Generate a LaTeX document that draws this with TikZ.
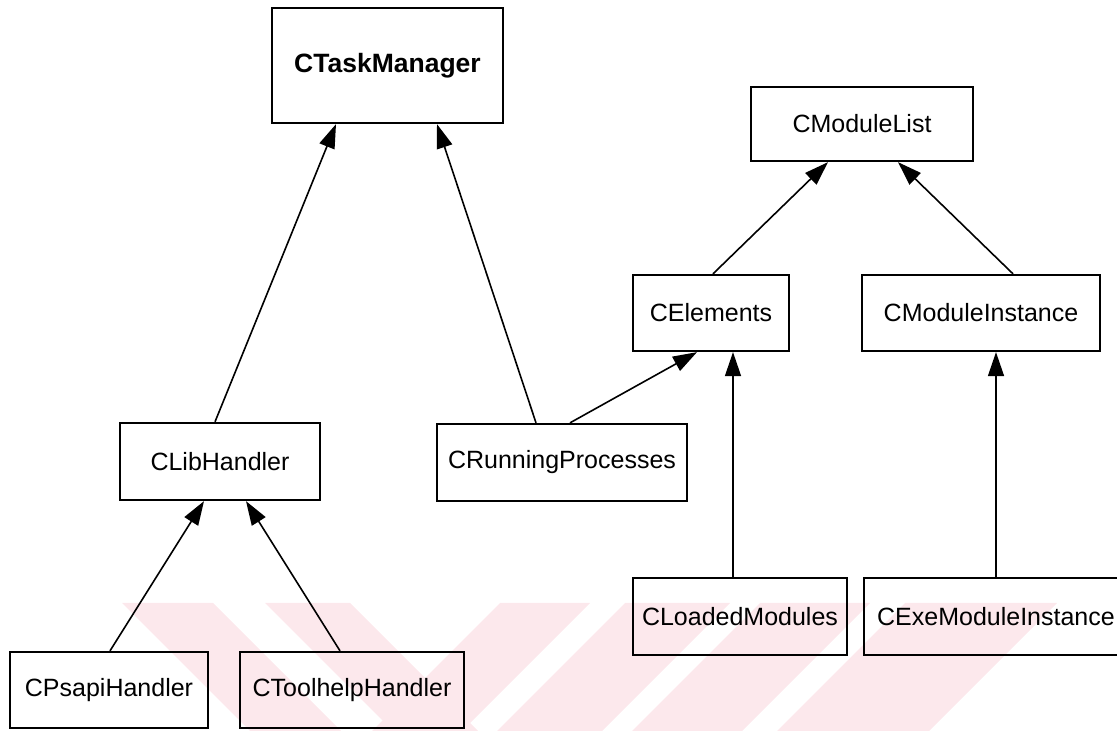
\documentclass[tikz,border=0pt]{standalone}
\usepackage{fontspec}
\setmainfont{Liberation Sans}
\usetikzlibrary{arrows.meta}
\definecolor{wmpink}{RGB}{252,232,236}

\begin{document}
\begin{tikzpicture}[x=1pt,y=1pt,
  cls/.style={draw, line width=2.3pt, inner sep=0pt, font=\fontsize{25}{30}\selectfont},
  gen/.style={line width=1.6pt, -{Triangle[length=24pt,width=16pt]}}]

  \clip (0,0) rectangle (1117,731);

  % faint striped band along the bottom
  \begin{scope}
    \clip (0,0) rectangle (1117,128);
    \foreach \a/\b in {122/213, 265/350}
      \fill[wmpink] (\a,128) -- (\b,128) -- (\b+128,0) -- (\a+128,0) -- cycle;
    \foreach \a/\b in {500/590, 625/730, 760/870, 905/1057}
      \fill[wmpink] (\a,128) -- (\b,128) -- (\b-128,0) -- (\a-128,0) -- cycle;
  \end{scope}

  % classes
  \node[cls, minimum width=231pt, minimum height=115pt, font=\fontsize{26.5}{30}\selectfont\bfseries]
        (tm) at (387.5,665.5) {CTaskManager};
  \node[cls, minimum width=222pt, minimum height=74pt]  (ml) at (862,607)     {CModuleList};
  \node[cls, minimum width=156pt, minimum height=76pt]  (el) at (711,418)     {CElements};
  \node[cls, minimum width=238pt, minimum height=76pt]  (mi) at (981,418)     {CModuleInstance};
  \node[cls, minimum width=200pt, minimum height=77pt]  (lh) at (220,269.5)   {CLibHandler};
  \node[cls, minimum width=250pt, minimum height=77pt]  (rp) at (562,268.5)   {CRunningProcesses};
  \node[cls, minimum width=214pt, minimum height=77pt]  (lm) at (740,114.5)   {CLoadedModules};
  \node[cls, minimum width=264pt, minimum height=77pt]  (em) at (996,114.5)   {CExeModuleInstance};
  \node[cls, minimum width=198pt, minimum height=76pt]  (ps) at (109,41)      {CPsapiHandler};
  \node[cls, minimum width=224pt, minimum height=76pt]  (th) at (352,41)      {CToolhelpHandler};

  % generalisations
  \draw[gen] ([xshift=-5pt]lh.north)  -- ([xshift=-51.5pt]tm.south);
  \draw[gen] ([xshift=-26pt]rp.north) -- ([xshift=49.5pt]tm.south);
  \draw[gen] ([xshift=8pt]rp.north)   -- ([xshift=-14pt]el.south);
  \draw[gen] ([xshift=-7pt]lm.north)  -- ([xshift=22pt]el.south);
  \draw[gen] (em.north)               -- ([xshift=15pt]mi.south);
  \draw[gen] ([xshift=2pt]el.north)   -- ([xshift=-34pt]ml.south);
  \draw[gen] ([xshift=32pt]mi.north)  -- ([xshift=36pt]ml.south);
  \draw[gen] ([xshift=1pt]ps.north)   -- ([xshift=-16pt]lh.south);
  \draw[gen] ([xshift=-12pt]th.north) -- ([xshift=26pt]lh.south);
\end{tikzpicture}
\end{document}
